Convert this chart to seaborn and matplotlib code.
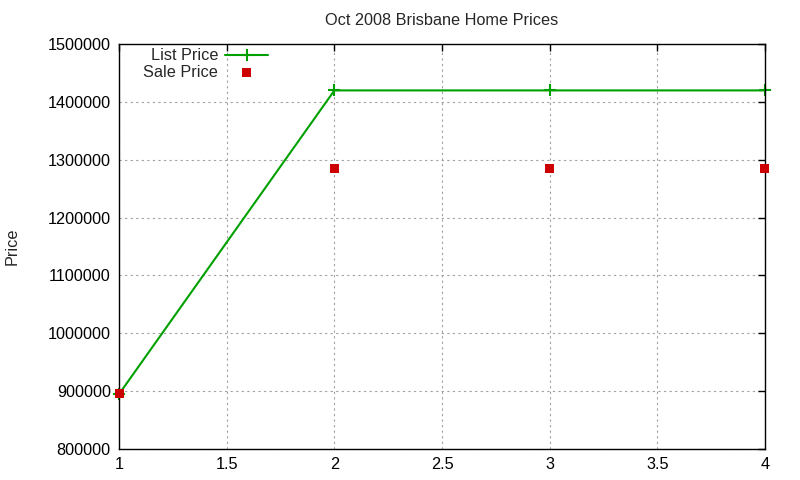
import matplotlib
matplotlib.use('Agg')
import matplotlib.pyplot as plt
import seaborn as sns
import pandas as pd

# data
x_vals = [1, 2, 3, 4]
list_price = [895000, 1420000, 1420000, 1420000]
sale_price = [895000, 1285000, 1285000, 1285000]

sns.set_style('white')
plt.rcParams['font.family'] = ['Liberation Sans', 'DejaVu Sans']
fs = 11.7

df = pd.DataFrame({'x': x_vals, 'list': list_price, 'sale': sale_price})

fig = plt.figure(figsize=(8, 4.8), dpi=100)
ax = fig.add_axes([0.149, 0.065, 0.807, 0.843])

sns.lineplot(data=df, x='x', y='list', ax=ax, color='#00a000', lw=1.5,
             marker='+', markersize=8, markeredgewidth=1.5,
             markeredgecolor='#00a000', label='List Price', clip_on=False)
sns.scatterplot(data=df, x='x', y='sale', ax=ax, color='#cc0000', marker='s',
                s=40, edgecolor='none', label='Sale Price', zorder=3, clip_on=False)

ax.set_xlim(1, 4)
ax.set_ylim(800000, 1500000)
ax.set_xticks([1, 1.5, 2, 2.5, 3, 3.5, 4])
ax.set_xticklabels(['1', '1.5', '2', '2.5', '3', '3.5', '4'])
ax.set_yticks(range(800000, 1500001, 100000))
ax.set_yticklabels([str(v) for v in range(800000, 1500001, 100000)])

ax.grid(True, color='#a0a0a0', linestyle=(0, (2, 3)), lw=0.8)
ax.tick_params(direction='in', length=5, width=1, top=True, right=True,
               labelsize=fs, colors='black', pad=6)
for s in ax.spines.values():
    s.set_color('black')
    s.set_linewidth(1)

ax.set_xlabel('')
ax.set_ylabel('Price', fontsize=fs, labelpad=20)
ax.set_title('Oct 2008 Brisbane Home Prices', fontsize=fs, pad=14)

ax.legend(loc='upper left', bbox_to_anchor=(0.031, 1.0), frameon=False,
          markerfirst=False, fontsize=fs, handlelength=2.6, borderpad=0.1,
          labelspacing=0.1, handletextpad=0.45, borderaxespad=0.15)

fig.savefig('out.png', dpi=100)
